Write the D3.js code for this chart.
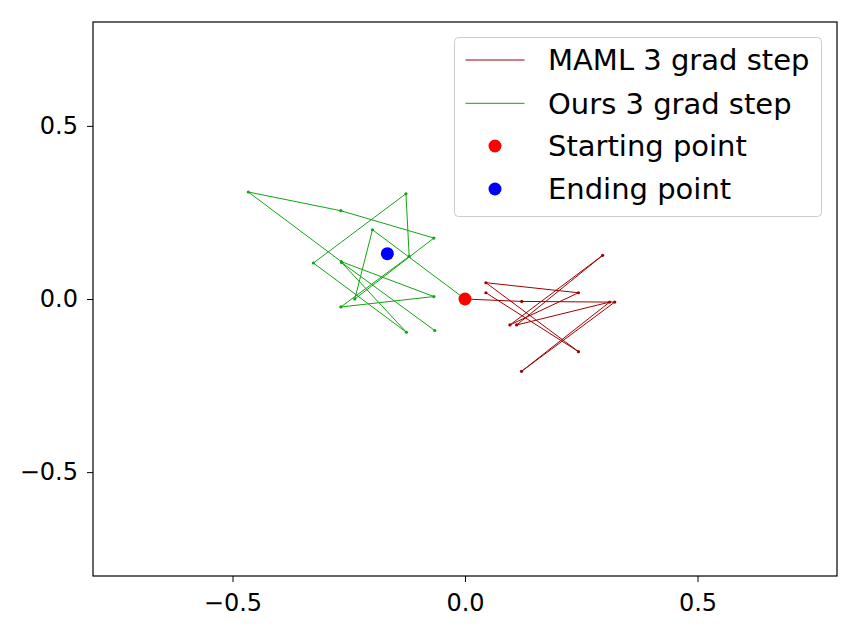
<!DOCTYPE html>
<html>
<head>
<meta charset="utf-8">
<script src="https://cdn.jsdelivr.net/npm/d3@7"></script>
<style>
  html, body { margin: 0; padding: 0; background: #fff; }
  svg { display: block; font-family: "DejaVu Sans", sans-serif; }
</style>
</head>
<body>
<svg id="chart" width="860" height="632"></svg>
<script>
// ---- data ----
const mamlX = [0, 0.122, 0.322, 0.1215, 0.311, 0.111, 0.296, 0.0966, 0.244, 0.045, 0.244, 0.045];
const mamlY = [0, -0.007, -0.009, -0.209, -0.009, -0.075, 0.126, -0.075, 0.018, 0.047, -0.152, 0.018];
const oursX = [0, -0.199, -0.237, -0.067, -0.267, -0.466, -0.266, -0.067, -0.267, -0.120, -0.127, -0.326, -0.126, -0.265, -0.065];
const oursY = [0, 0.200, 0.0, 0.176, 0.255, 0.309, 0.108, 0.007, -0.023, 0.123, 0.304, 0.104, -0.096, 0.105, -0.091];
const startPoint = [0, 0];
const endPoint = [-0.167, 0.131];
const xTicks = [-0.5, 0.0, 0.5];
const yTicks = [-0.5, 0.0, 0.5];
const legendLabels = ["MAML 3 grad step", "Ours 3 grad step", "Starting point", "Ending point"];

// ---- layout ----
const svg = d3.select("#chart");
const mLeft = 93, mRight = 837, mTop = 22, mBottom = 576;
const x = d3.scaleLinear().domain([-0.8, 0.8]).range([mLeft, mRight]);
const y = d3.scaleLinear().domain([-0.8, 0.8]).range([mBottom, mTop]);

const colRed = "#a00000", colGreen = "#14a314";

// axes
const fmt = d3.format(".1f");
const gx = svg.append("g").attr("transform", `translate(0,${mBottom})`)
  .call(d3.axisBottom(x).tickValues(xTicks).tickFormat(fmt).tickSize(6).tickPadding(12));
const gy = svg.append("g").attr("transform", `translate(${mLeft},0)`)
  .call(d3.axisLeft(y).tickValues(yTicks).tickFormat(fmt).tickSize(6).tickPadding(9));
[gx, gy].forEach(g => {
  g.select(".domain").remove();
  g.selectAll("line").attr("stroke", "#000").attr("stroke-width", 1);
  g.selectAll("text").attr("font-size", 24).attr("fill", "#000")
    .attr("font-family", "DejaVu Sans, sans-serif");
});

// lines
const line = d3.line().x(d => x(d[0])).y(d => y(d[1]));
function drawSeries(xs, ys, color) {
  const pts = xs.map((v, i) => [v, ys[i]]);
  svg.append("path").datum(pts).attr("d", line)
    .attr("fill", "none").attr("stroke", color).attr("stroke-width", 1);
  svg.append("g").selectAll("circle").data(pts).join("circle")
    .attr("cx", d => x(d[0])).attr("cy", d => y(d[1])).attr("r", 1.6).attr("fill", color);
}
drawSeries(mamlX, mamlY, colRed);
drawSeries(oursX, oursY, colGreen);

// start / end points
svg.append("circle").attr("cx", x(startPoint[0])).attr("cy", y(startPoint[1])).attr("r", 6.5).attr("fill", "#ff0000");
svg.append("circle").attr("cx", x(endPoint[0])).attr("cy", y(endPoint[1])).attr("r", 6.5).attr("fill", "#0000ff");

// frame
svg.append("rect").attr("x", mLeft).attr("y", mTop).attr("width", mRight - mLeft).attr("height", mBottom - mTop)
  .attr("fill", "none").attr("stroke", "#000").attr("stroke-width", 1.2);

// legend
const lg = svg.append("g");
lg.append("rect").attr("x", 454.5).attr("y", 37.5).attr("width", 367).attr("height", 179).attr("rx", 4)
  .attr("fill", "#fff").attr("fill-opacity", 0.8).attr("stroke", "#cccccc").attr("stroke-width", 1);
const rowY = [60, 103.3, 146, 189];
const kinds = [
  {type: "line", color: colRed},
  {type: "line", color: colGreen},
  {type: "dot", color: "#ff0000"},
  {type: "dot", color: "#0000ff"}
];
legendLabels.forEach((lab, i) => {
  const k = kinds[i];
  if (k.type === "line") {
    lg.append("line").attr("x1", 465.5).attr("x2", 524.5).attr("y1", rowY[i]).attr("y2", rowY[i])
      .attr("stroke", k.color).attr("stroke-width", 1);
  } else {
    lg.append("circle").attr("cx", 495).attr("cy", rowY[i]).attr("r", 6.5).attr("fill", k.color);
  }
  lg.append("text").attr("x", 548).attr("y", rowY[i]).attr("dy", "0.36em")
    .attr("font-size", 29).attr("fill", "#000").text(lab);
});
</script>
</body>
</html>
